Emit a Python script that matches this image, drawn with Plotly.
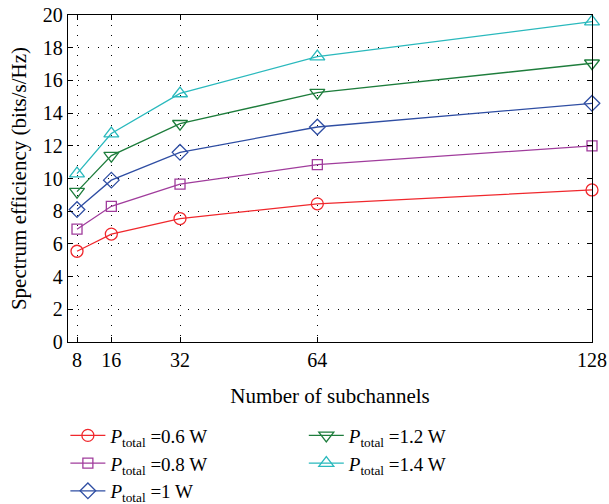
import plotly.graph_objects as go

subchannels = [8, 16, 32, 64, 128]
p_labels = ["0.6", "0.8", "1", "1.2", "1.4"]
se_06 = [5.55, 6.6, 7.55, 8.45, 9.3]
se_08 = [6.9, 8.3, 9.65, 10.85, 12.0]
se_10 = [8.1, 9.9, 11.6, 13.15, 14.6]
se_12 = [9.2, 11.4, 13.35, 15.25, 17.05]
se_14 = [10.3, 12.75, 15.2, 17.45, 19.6]
x_ticks = [8, 16, 32, 64, 128]
y_ticks = list(range(0, 21, 2))

series = [se_06, se_08, se_10, se_12, se_14]
colors = ["#f0282d", "#a03c9c", "#2f4ea3", "#1e7d3c", "#2ab9bd"]
symbols = ["circle-open", "square-open", "diamond-open", "triangle-down-open", "triangle-up-open"]
sizes = [12, 10, 12, 13, 13]
legends = ["legend", "legend", "legend", "legend2", "legend2"]

FONT = "Liberation Serif"

fig = go.Figure()
for ys, lab, c, s, sz, lg in zip(series, p_labels, colors, symbols, sizes, legends):
    fig.add_trace(go.Scatter(
        x=subchannels, y=ys, mode="lines+markers",
        name=f"<i>P</i><sub>total</sub> =%s W" % lab,
        line=dict(color=c, width=1.3),
        marker=dict(symbol=s, size=sz, color=c, line=dict(color=c, width=1.3)),
        legend=lg, cliponaxis=False,
    ))

axis_common = dict(
    showline=True, linecolor="black", linewidth=1.3, mirror="ticks",
    ticks="inside", ticklen=5, tickcolor="black", tickwidth=1.2,
    showgrid=True, gridcolor="black", gridwidth=1, griddash="1px,9px",
    zeroline=False, tickfont=dict(family=FONT, size=20, color="black"),
    automargin=False,
)

fig.update_xaxes(
    range=[5.9, 128], tickvals=x_ticks, ticktext=[str(t) for t in x_ticks],
    title=dict(text="Number of subchannels", font=dict(family=FONT, size=21, color="black"), standoff=18),
    **axis_common,
)
fig.update_yaxes(
    range=[0, 20], tickvals=y_ticks,
    title=dict(text="Spectrum efficiency (bits/s/Hz)", font=dict(family=FONT, size=21, color="black"), standoff=10),
    **axis_common,
)

leg_common = dict(
    orientation="v", yanchor="top", xanchor="left",
    font=dict(family=FONT, size=19, color="black"),
    bgcolor="rgba(0,0,0,0)", itemwidth=35, tracegroupgap=0,
)
fig.update_layout(
    width=609, height=504,
    margin=dict(l=68, r=17, t=15, b=162, autoexpand=False),
    paper_bgcolor="white", plot_bgcolor="white",
    font=dict(family=FONT, size=19, color="black"),
    legend=dict(x=-0.005, y=-0.228, **leg_common),
    legend2=dict(x=0.45, y=-0.228, **leg_common),
)

fig.write_html("out.html")
